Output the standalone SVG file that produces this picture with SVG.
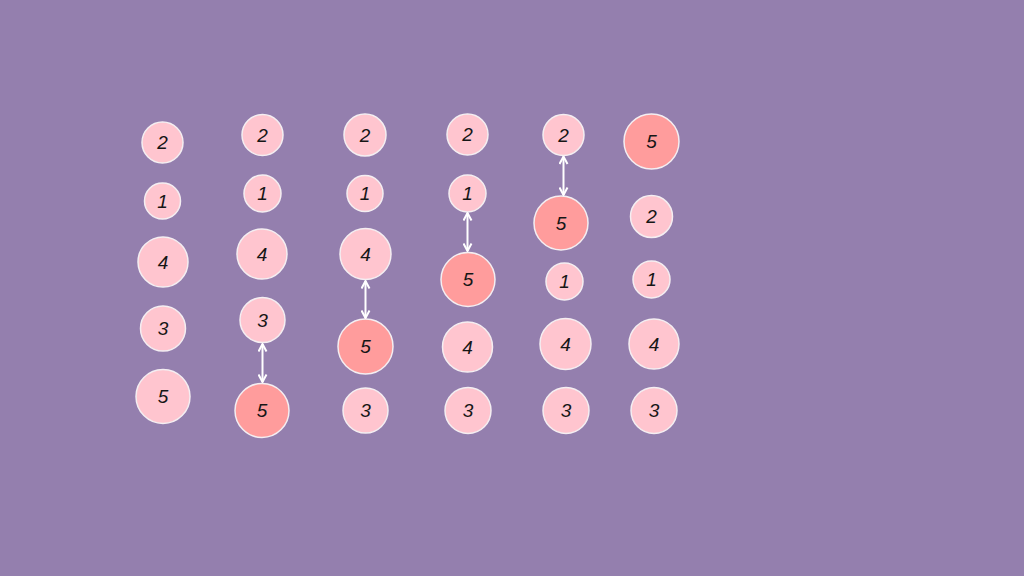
<svg xmlns="http://www.w3.org/2000/svg" width="1024" height="576" viewBox="0 0 1024 576">
<defs>
<style>
.n{fill:#ffc5cf;stroke:#f4eef2;stroke-width:1.5}
.r{fill:#ff9c9c;stroke:#f4eef2;stroke-width:1.5}
.t{font-family:"Liberation Sans","DejaVu Sans",sans-serif;font-size:19px;fill:#161616;text-anchor:middle;dominant-baseline:central;font-style:italic}
.a{stroke:#ffffff;stroke-width:2;fill:none;marker-start:url(#h);marker-end:url(#h)}
</style>
<marker id="h" viewBox="0 0 10 10" refX="9" refY="5" markerWidth="10" markerHeight="10" markerUnits="userSpaceOnUse" orient="auto-start-reverse">
<path d="M1.5,1 L9,5 L1.5,9" fill="none" stroke="#ffffff" stroke-width="2"/>
</marker>
</defs>
<rect width="1024" height="576" fill="#947fae"/>
<g id="c1">
<g id="c1n2"><circle class="n" cx="162.5" cy="142.5" r="20.5"/><text class="t" x="162.5" y="142.5">2</text></g>
<g id="c1n1"><circle class="n" cx="162.5" cy="201" r="18"/><text class="t" x="162.5" y="201">1</text></g>
<g id="c1n4"><circle class="n" cx="163" cy="262" r="25"/><text class="t" x="163" y="262">4</text></g>
<g id="c1n3"><circle class="n" cx="163" cy="328.5" r="22.5"/><text class="t" x="163" y="328.5">3</text></g>
<g id="c1n5"><circle class="n" cx="163" cy="396.5" r="27"/><text class="t" x="163" y="396.5">5</text></g>
</g>
<g id="c2">
<g id="c2n2"><circle class="n" cx="262.5" cy="135" r="20.5"/><text class="t" x="262.5" y="135">2</text></g>
<g id="c2n1"><circle class="n" cx="262.5" cy="193.5" r="18.5"/><text class="t" x="262.5" y="193.5">1</text></g>
<g id="c2n4"><circle class="n" cx="262" cy="254" r="25"/><text class="t" x="262" y="254">4</text></g>
<g id="c2n3"><circle class="n" cx="262.5" cy="320" r="22.5"/><text class="t" x="262.5" y="320">3</text></g>
<g id="c2n5"><circle class="r" cx="262" cy="410.5" r="27"/><text class="t" x="262" y="410.5">5</text></g>
</g>
<g id="c3">
<g id="c3n2"><circle class="n" cx="365" cy="135" r="21"/><text class="t" x="365" y="135">2</text></g>
<g id="c3n1"><circle class="n" cx="365" cy="193.5" r="18"/><text class="t" x="365" y="193.5">1</text></g>
<g id="c3n4"><circle class="n" cx="365.5" cy="254" r="25.5"/><text class="t" x="365.5" y="254">4</text></g>
<g id="c3n5"><circle class="r" cx="365.5" cy="346.5" r="27.5"/><text class="t" x="365.5" y="346.5">5</text></g>
<g id="c3n3"><circle class="n" cx="365.5" cy="410.5" r="22.5"/><text class="t" x="365.5" y="410.5">3</text></g>
</g>
<g id="c4">
<g id="c4n2"><circle class="n" cx="467.5" cy="134.5" r="20.5"/><text class="t" x="467.5" y="134.5">2</text></g>
<g id="c4n1"><circle class="n" cx="467.5" cy="193.5" r="18.5"/><text class="t" x="467.5" y="193.5">1</text></g>
<g id="c4n5"><circle class="r" cx="468" cy="279.5" r="27"/><text class="t" x="468" y="279.5">5</text></g>
<g id="c4n4"><circle class="n" cx="467.5" cy="347" r="25"/><text class="t" x="467.5" y="347">4</text></g>
<g id="c4n3"><circle class="n" cx="468" cy="410.5" r="23"/><text class="t" x="468" y="410.5">3</text></g>
</g>
<g id="c5">
<g id="c5n2"><circle class="n" cx="563.5" cy="135" r="20.5"/><text class="t" x="563.5" y="135">2</text></g>
<g id="c5n5"><circle class="r" cx="561" cy="223" r="27"/><text class="t" x="561" y="223">5</text></g>
<g id="c5n1"><circle class="n" cx="564.5" cy="281.5" r="18.5"/><text class="t" x="564.5" y="281.5">1</text></g>
<g id="c5n4"><circle class="n" cx="565.5" cy="344" r="25.5"/><text class="t" x="565.5" y="344">4</text></g>
<g id="c5n3"><circle class="n" cx="566" cy="410.5" r="23"/><text class="t" x="566" y="410.5">3</text></g>
</g>
<g id="c6">
<g id="c6n5"><circle class="r" cx="651.5" cy="141.5" r="27.5"/><text class="t" x="651.5" y="141.5">5</text></g>
<g id="c6n2"><circle class="n" cx="651.5" cy="216.5" r="21"/><text class="t" x="651.5" y="216.5">2</text></g>
<g id="c6n1"><circle class="n" cx="651.5" cy="279.5" r="18.5"/><text class="t" x="651.5" y="279.5">1</text></g>
<g id="c6n4"><circle class="n" cx="654" cy="344" r="25"/><text class="t" x="654" y="344">4</text></g>
<g id="c6n3"><circle class="n" cx="654" cy="410.5" r="23"/><text class="t" x="654" y="410.5">3</text></g>
</g>
<g id="connectors">
<line class="a" x1="262.5" y1="344" x2="262.5" y2="382"/>
<line class="a" x1="365.5" y1="281" x2="365.5" y2="318"/>
<line class="a" x1="467.5" y1="213" x2="467.5" y2="251"/>
<line class="a" x1="563.5" y1="156.5" x2="563.5" y2="195"/>
</g>
</svg>
